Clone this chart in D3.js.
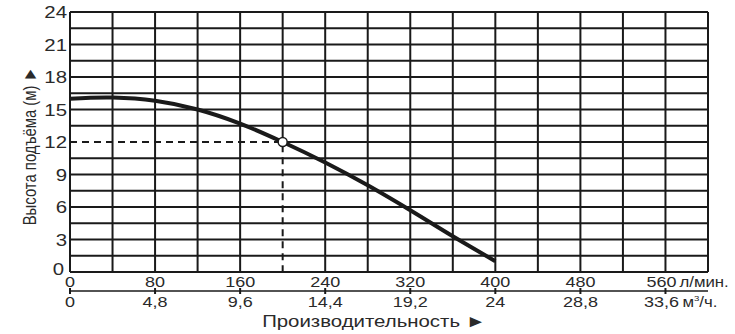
<!DOCTYPE html>
<html><head><meta charset="utf-8">
<script src="https://cdn.jsdelivr.net/npm/d3@7"></script>
<style>body{margin:0;background:#fff}svg{display:block}text{font-family:"Liberation Sans",Arial,sans-serif;fill:#2a2a2a}</style>
</head><body><div id="c"></div>
<script>
const flow = [0, 40, 80, 120, 160, 200, 240, 280, 320, 360, 400];
const head = [16.0, 16.1, 15.8, 15.0, 13.7, 12.0, 10.1, 8.0, 5.7, 3.3, 1.0];
const opPoint = {q: 200, h: 12};
const yTicks = [0, 3, 6, 9, 12, 15, 18, 21, 24];
const xTicksLpm = [0, 80, 160, 240, 320, 400, 480, 560];
const xTicksM3 = ["0", "4,8", "9,6", "14,4", "19,2", "24", "28,8", "33,6"];

const W = 735, H = 334;
const svg = d3.select("#c").append("svg").attr("width", W).attr("height", H);
const x = d3.scaleLinear().domain([0, 600]).range([70, 708]);
const y = d3.scaleLinear().domain([0, 24]).range([272, 12]);
const SX = 1.2;

function txt(s, px, py, size, anchor) {
  return svg.append("text").attr("transform", `translate(${px},${py}) scale(${SX},1)`)
    .attr("font-size", size).attr("text-anchor", anchor || "middle").text(s);
}

// grid (guide lines replace the grid segments they lie on)
const g = svg.append("g").attr("stroke", "#1a1a1a").attr("stroke-width", 2).attr("fill", "none");
g.selectAll("line.v").data(d3.range(0, 601, 40)).join("line").attr("class", "v")
  .attr("x1", d => x(d)).attr("x2", d => x(d))
  .attr("y1", d => d === opPoint.q ? y(opPoint.h) : y(0)).attr("y2", y(24));
g.selectAll("line.h").data(d3.range(0, 24.01, 1.5)).join("line").attr("class", "h")
  .attr("x1", d => d === opPoint.h ? x(opPoint.q) : x(0)).attr("x2", x(600))
  .attr("y1", d => y(d)).attr("y2", d => y(d));

// dashed guides
svg.append("path").attr("fill", "none").attr("stroke", "#1a1a1a").attr("stroke-width", 2)
  .attr("stroke-dasharray", "7,5")
  .attr("d", `M${x(0)},${y(opPoint.h)}H${x(opPoint.q)}V${y(0)}`);

// curve
const pts = flow.map((q, i) => [q, head[i]]);
svg.append("path").attr("fill", "none").attr("stroke", "#1a1a1a").attr("stroke-width", 4)
  .attr("d", d3.line().x(d => x(d[0])).y(d => y(d[1])).curve(d3.curveCatmullRom)(pts));

svg.append("circle").attr("cx", x(opPoint.q)).attr("cy", y(opPoint.h)).attr("r", 4.5)
  .attr("fill", "#fff").attr("stroke", "#1a1a1a").attr("stroke-width", 1.5);

// y labels
yTicks.forEach(v => {
  if (v === 0) txt("0", 64, 275, 17, "end");
  else txt(String(v), 67, y(v) + 6, 17, "end");
});

// bottom axis line
const ax = svg.append("g").attr("stroke", "#1a1a1a");
ax.append("line").attr("x1", x(0)).attr("x2", x(600)).attr("y1", 291).attr("y2", 291).attr("stroke-width", 1.5);
ax.selectAll("line.t").data(xTicksLpm).join("line").attr("class", "t")
  .attr("x1", d => x(d)).attr("x2", d => x(d)).attr("y1", 288).attr("y2", 294).attr("stroke-width", 2);

xTicksLpm.forEach((v, i) => {
  const last = i === xTicksLpm.length - 1;
  txt(String(v), x(v) - (last ? 4 : 0), 287, 15);
  txt(xTicksM3[i], x(v) - (last ? 4 : 0), 307, 15);
});
txt("л/мин.", x(560) + 14, 287, 14, "start");
const u = txt("м", x(560) + 17, 307, 14, "start");
u.append("tspan").attr("font-size", 8).attr("dy", -6).text("3");
u.append("tspan").attr("dy", 6).text("/ч.");

txt("Производительность ►", 374, 327, 17);

svg.append("text").attr("transform", "translate(36,146) rotate(-90) scale(0.93,1.2)")
  .attr("font-size", 16).attr("text-anchor", "middle").text("Высота подъёма (м) ►");
</script></body></html>
